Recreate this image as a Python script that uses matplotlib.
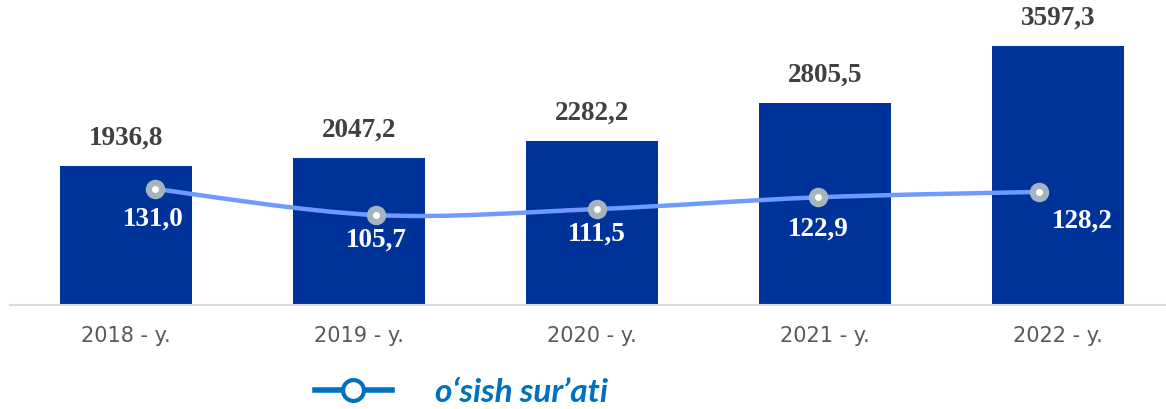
import numpy as np
import matplotlib.pyplot as plt
from matplotlib.path import Path
from matplotlib.patches import PathPatch
from matplotlib.lines import Line2D

years = ["2018 - y.", "2019 - y.", "2020 - y.", "2021 - y.", "2022 - y."]
volume = [1936.8, 2047.2, 2282.2, 2805.5, 3597.3]
growth = [131.0, 105.7, 111.5, 122.9, 128.2]
legend_label = "o‘sish sur’ati"

W, H = 1166, 409
fig = plt.figure(figsize=(W / 100, H / 100), dpi=100)

bottom = (H - 305) / H
height = 285 / H
ax = fig.add_axes([9.5 / W, bottom, 1165 / W, height])
ax2 = fig.add_axes([44.5 / W, bottom, 1105 / W, height])
ax2.patch.set_alpha(0)

x = np.arange(len(years))
bars = ax.bar(x, volume, width=0.567, color='#00339a', zorder=2)
ax.set_xlim(-0.5, 4.5)
ax.set_ylim(0, 3958)
ax.set_yticks([])
for s in ['top', 'right', 'left']:
    ax.spines[s].set_visible(False)
ax.spines['bottom'].set_color('#d9d9d9')
ax.spines['bottom'].set_linewidth(1.5)
ax.set_xticks(x)
ax.set_xticklabels(years, fontsize=15, color='#595959', family='DejaVu Sans')
ax.tick_params(axis='x', length=0, pad=15)

for xi, v in zip(x, volume):
    ax.annotate(f"{v:.1f}".replace('.', ','), (xi, v), xytext=(0, 11),
                textcoords='offset points', ha='center', va='bottom',
                fontsize=19.5, fontweight='bold', color='#404040',
                family='Liberation Serif')

# smooth line through the growth points (Catmull-Rom as cubic Bezier)
ax2.set_xlim(-0.5, 4.5)
ax2.set_ylim(18.4, 295)
ax2.axis('off')
pts = np.column_stack([x, growth]).astype(float)
verts = [tuple(pts[0])]
codes = [Path.MOVETO]
for i in range(len(pts) - 1):
    p0 = pts[max(i - 1, 0)]
    p1 = pts[i]
    p2 = pts[i + 1]
    p3 = pts[min(i + 2, len(pts) - 1)]
    c1 = p1 + (p2 - p0) / 6
    c2 = p2 - (p3 - p1) / 6
    verts += [tuple(c1), tuple(c2), tuple(p2)]
    codes += [Path.CURVE4] * 3
ax2.add_patch(PathPatch(Path(verts, codes), facecolor='none',
                        edgecolor='#6f9bff', lw=3.2, zorder=3))
ax2.plot(x, growth, 'o', ms=13, color='#a6b4be', zorder=4)
ax2.plot(x, growth, 'o', ms=4, color='white', zorder=5)

offsets = [(-1, -22), (0, -18), (0, -18), (0, -23), (31, -21)]
for xi, g, (dx, dy) in zip(x, growth, offsets):
    ax2.annotate(f"{g:.1f}".replace('.', ','), (xi, g), xytext=(dx, dy),
                 textcoords='offset points', ha='center', va='center',
                 fontsize=19.5, fontweight='bold', color='white',
                 family='Liberation Serif', zorder=6)

handle = Line2D([], [], color='#0070c0', lw=4, marker='o', ms=15,
                markerfacecolor='white', markeredgecolor='#0070c0', mew=3)
fig.legend([handle], [legend_label], loc='center left',
           bbox_to_anchor=(315 / W, 1 - 392 / H), frameon=False,
           borderpad=0, borderaxespad=0,
           handlelength=2.3, handletextpad=1.3,
           prop={'family': 'Lato', 'weight': 'bold', 'style': 'italic', 'size': 24},
           labelcolor='#0070c0')

fig.savefig('out.png', dpi=100)
